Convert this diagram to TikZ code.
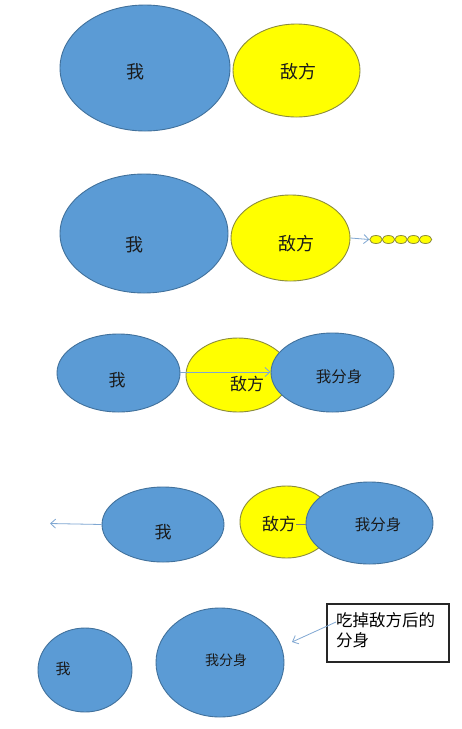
\documentclass[tikz,border=0pt]{standalone}
\usepackage{fontspec}
\setmainfont{Noto Sans CJK SC}
\usetikzlibrary{shapes.geometric,arrows.meta}
\definecolor{bluefill}{HTML}{5B9BD5}
\definecolor{blueline}{HTML}{41719C}
\definecolor{yelfill}{HTML}{FFFF00}
\definecolor{yelline}{HTML}{8C8C3C}
\definecolor{arrowc}{HTML}{7FA7D2}
\definecolor{txtc}{HTML}{1A1A1A}
\tikzset{
  blueell/.style={ellipse, draw=blueline, fill=bluefill, line width=0.9pt, inner sep=0pt},
  yelell/.style={ellipse, draw=yelline, fill=yelfill, line width=0.9pt, inner sep=0pt},
  lbl/.style={text=txtc, inner sep=0pt},
  arr/.style={draw=arrowc, line width=0.8pt, -{Straight Barb[length=5pt,width=9pt]}},
}
\begin{document}
\begin{tikzpicture}[x=1pt,y=-1pt]
\useasboundingbox[fill=white] (0,0) rectangle (462,729);
% Row 1
\node[blueell, minimum width=170pt, minimum height=126pt] (me1) at (145,68) {};
\node[yelell, minimum width=127pt, minimum height=93pt] (en1) at (296.5,70.5) {};
\node[lbl, font=\fontsize{18}{20}\selectfont] (tme1) at (135,72) {我};
\node[lbl, font=\fontsize{18}{20}\selectfont] (ten1) at (298,72) {敌方};
% Row 2
\node[blueell, minimum width=168pt, minimum height=119pt] (me2) at (144,233.5) {};
\node[yelell, minimum width=119pt, minimum height=86pt] (en2) at (290.5,238) {};
\node[lbl, font=\fontsize{18}{20}\selectfont] (tme2) at (134,245) {我};
\node[lbl, font=\fontsize{18}{20}\selectfont] (ten2) at (296,244) {敌方};
\foreach \i/\cx in {1/376,2/388.5,3/401,4/413.5,5/425.5}{
  \node[yelell, line width=0.8pt, minimum width=12.5pt, minimum height=8pt] (b\i) at (\cx,239.5) {};
}
\draw[arr] (en2.east) -- (b1.west);
% Row 3
\node[blueell, minimum width=123pt, minimum height=78pt] (me3) at (118.5,373) {};
\node[yelell, minimum width=104pt, minimum height=74pt] (en3) at (238,375) {};
\node[blueell, minimum width=123pt, minimum height=79pt] (fs3) at (332.5,372.5) {};
\draw[arr] (me3.east |- 0,372) coordinate (a3s) -- (fs3.west |- 0,372) coordinate (a3e);
\node[lbl, font=\fontsize{17}{19}\selectfont] (tme3) at (117,380) {我};
\node[lbl, font=\fontsize{17}{19}\selectfont] (ten3) at (247,384) {敌方};
\node[lbl, font=\fontsize{15.5}{17}\selectfont] (tfs3) at (339,377) {我分身};
% Row 4
\node[blueell, minimum width=122pt, minimum height=75pt] (me4) at (163,524.5) {};
\coordinate (away) at (50,523.5);
\draw[arr] (me4.west) -- (away);
\node[yelell, minimum width=93pt, minimum height=72pt] (en4) at (286.5,522) {};
\node[lbl, font=\fontsize{17}{19}\selectfont] (ten4) at (279,524) {敌方};
\node[blueell, minimum width=127pt, minimum height=82pt] (fs4) at (369.5,523) {};
\draw[draw=gray, line width=0.6pt] (ten4.east) -- (fs4.west |- ten4.east);
\node[lbl, font=\fontsize{17}{19}\selectfont] (tme4) at (163,532) {我};
\node[lbl, font=\fontsize{15.5}{17}\selectfont] (tfs4) at (378,525) {我分身};
% Row 5
\node[blueell, minimum width=94pt, minimum height=84pt] (me5) at (85,670) {};
\node[blueell, minimum width=128pt, minimum height=109pt] (fs5) at (220,662.5) {};
\node[lbl, font=\fontsize{15}{17}\selectfont] (tme5) at (63,669) {我};
\node[lbl, font=\fontsize{14}{16}\selectfont] (tfs5) at (226,660) {我分身};
\node[draw=black!85, line width=1.1pt, fill=white, minimum width=122pt, minimum height=58pt, inner sep=0pt] (box) at (388,633) {};
\node[lbl, anchor=north west, align=left, text=black, font=\fontsize{16.5}{20}\selectfont] (boxt) at (336,612) {吃掉敌方后的\\分身};
\coordinate (bxs) at (336,622);
\coordinate (bxe) at (292,642);
\draw[arr] (bxs) -- (bxe);
\end{tikzpicture}
\end{document}
